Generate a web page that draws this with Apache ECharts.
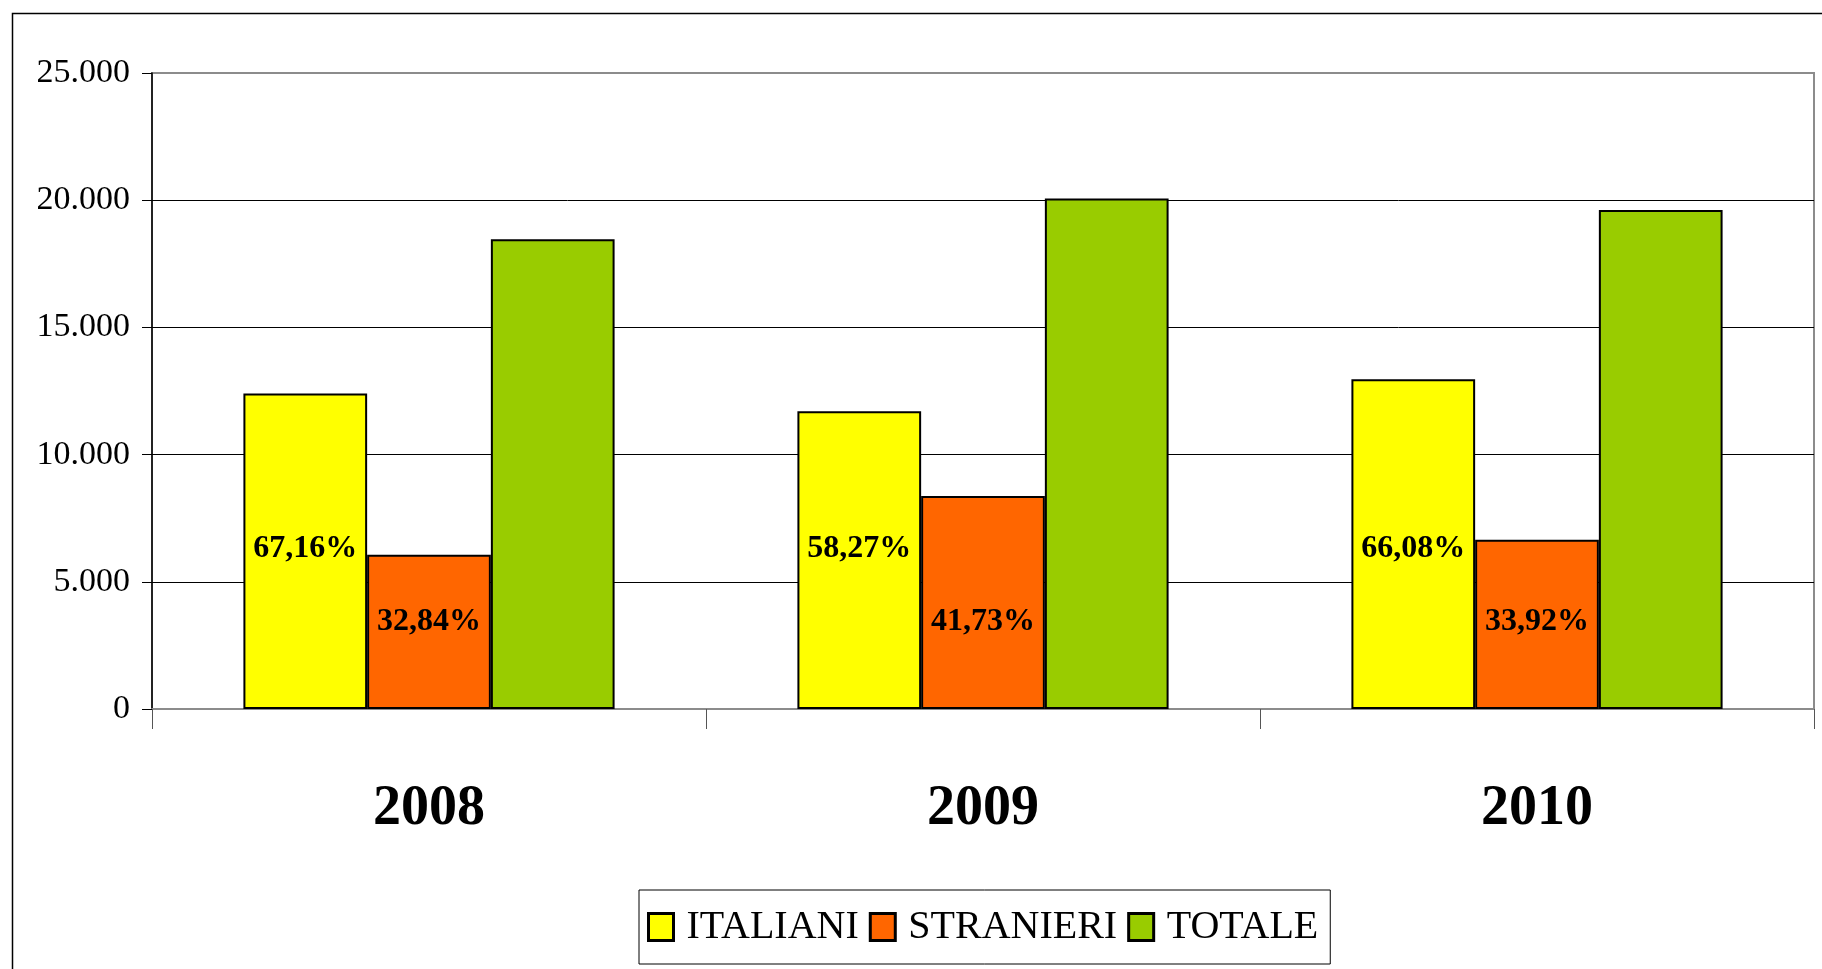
<!DOCTYPE html>
<html>
<head>
<meta charset="utf-8">
<script src="https://cdn.jsdelivr.net/npm/echarts@6/dist/echarts.min.js"></script>
<style>
html,body{margin:0;padding:0;background:#fff;}
#chart{width:1822px;height:969px;}
</style>
</head>
<body>
<div id="chart"></div>
<script>
const categories = ['2008', '2009', '2010'];
const seriesNames = ['ITALIANI', 'STRANIERI', 'TOTALE'];
const italiani = [12400, 11700, 12960];
const stranieri = [6065, 8370, 6650];
const totale = [18465, 20070, 19610];
const italianiPct = ['67,16%', '58,27%', '66,08%'];
const stranieriPct = ['32,84%', '41,73%', '33,92%'];
const yTicks = [0, 5000, 10000, 15000, 20000, 25000];

const serif = "'Liberation Serif', 'Times New Roman', serif";
function fmt(v) { return String(v).replace(/\B(?=(\d{3})+(?!\d))/g, '.'); }

const chart = echarts.init(document.getElementById('chart'), null, {renderer: 'canvas'});
const barBorder = {borderColor: '#000', borderWidth: 2};
chart.setOption({
  animation: false,
  backgroundColor: '#fff',
  graphic: [{
    type: 'rect', left: 10, top: 11, z: -1,
    shape: {width: 1840, height: 1000},
    style: {fill: 'none', stroke: '#000', lineWidth: 1.5}
  }],
  grid: {
    left: 152, right: 8, top: 73, bottom: 260,
    show: true, borderColor: '#8c8c8c', borderWidth: 2, backgroundColor: 'transparent'
  },
  legend: {
    data: seriesNames,
    left: 639, top: 890,
    backgroundColor: '#fff',
    borderColor: '#000', borderWidth: 1,
    padding: [17, 12, 17, 8],
    itemGap: 10,
    itemWidth: 25, itemHeight: 27,
    icon: 'rect',
    itemStyle: {borderColor: '#000', borderWidth: 3},
    textStyle: {fontFamily: serif, fontSize: 40, color: '#000', padding: [0, 0, 0, 8]}
  },
  xAxis: {
    type: 'category',
    data: categories,
    axisLine: {lineStyle: {color: '#8c8c8c', width: 2}},
    axisTick: {show: true, length: 20, lineStyle: {color: '#555', width: 1}},
    axisLabel: {fontFamily: serif, fontWeight: 'bold', fontSize: 56, color: '#000', margin: 73}
  },
  yAxis: {
    type: 'value',
    min: 0, max: 25000, interval: 5000,
    axisLine: {show: true, lineStyle: {color: '#000', width: 1.5}},
    axisTick: {show: true, length: 10, lineStyle: {color: '#000'}},
    axisLabel: {fontFamily: serif, fontSize: 34, color: '#000', margin: 22, formatter: fmt},
    splitLine: {show: true, lineStyle: {color: ['#8c8c8c', '#000', '#000', '#000', '#000', '#8c8c8c'], width: 1}}
  },
  series: [
    {
      name: seriesNames[0], type: 'bar', data: italiani,
      barGap: '0%', barCategoryGap: '33%',
      itemStyle: Object.assign({color: '#FFFF00'}, barBorder),
      label: {
        show: true, position: 'insideBottom', distance: 144,
        fontFamily: serif, fontWeight: 'bold', fontSize: 32, color: '#000',
        formatter: p => italianiPct[p.dataIndex]
      }
    },
    {
      name: seriesNames[1], type: 'bar', data: stranieri,
      barGap: '0%', barCategoryGap: '33%',
      itemStyle: Object.assign({color: '#FF6600'}, barBorder),
      label: {
        show: true, position: 'insideBottom', distance: 71,
        fontFamily: serif, fontWeight: 'bold', fontSize: 32, color: '#000',
        formatter: p => stranieriPct[p.dataIndex]
      }
    },
    {
      name: seriesNames[2], type: 'bar', data: totale,
      barGap: '0%', barCategoryGap: '33%',
      itemStyle: Object.assign({color: '#99CC00'}, barBorder)
    }
  ]
});
</script>
</body>
</html>
